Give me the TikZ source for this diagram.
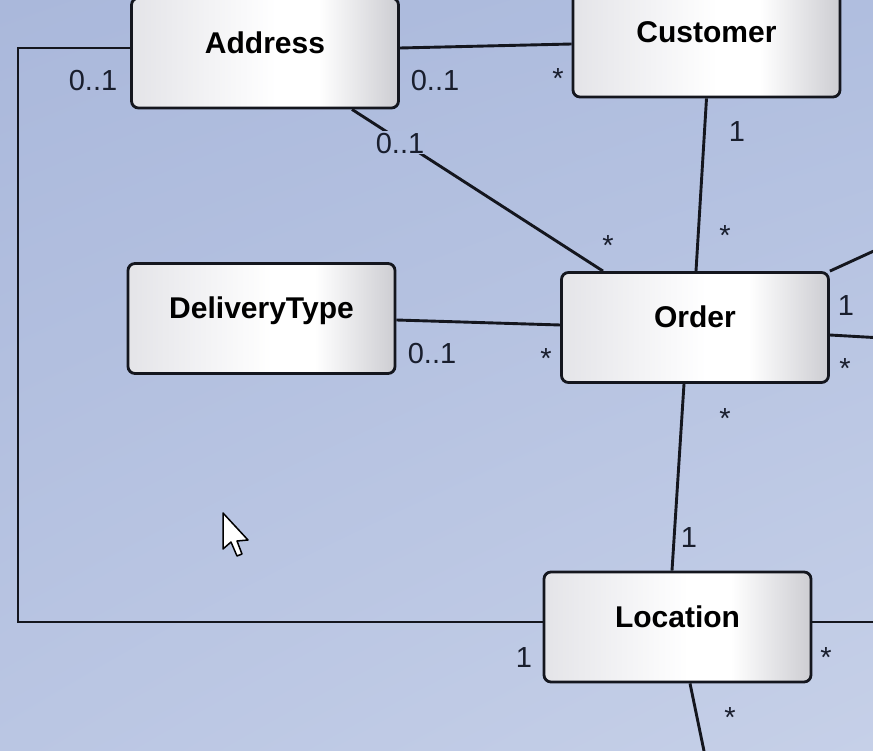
\documentclass[tikz,border=0pt]{standalone}
\usepackage{fontspec}
\setmainfont{Liberation Sans}
\usetikzlibrary{calc,shadings}
\definecolor{bgUL}{RGB}{170,184,219}
\definecolor{bgUR}{RGB}{176,190,223}
\definecolor{bgLL}{RGB}{186,198,227}
\definecolor{bgLR}{RGB}{198,208,232}
\definecolor{bgmid}{RGB}{176,190,223}
\definecolor{bxl}{RGB}{228,228,232}
\definecolor{bxm}{RGB}{243,243,245}
\definecolor{bxr}{RGB}{205,205,210}
\definecolor{lnc}{RGB}{20,22,30}
\definecolor{lblc}{RGB}{25,30,45}
\pgfdeclarehorizontalshading{clsshade}{100bp}{color(0bp)=(bxl); color(25bp)=(bxl);
  color(40bp)=(bxm); color(52bp)=(white); color(60bp)=(white);
  color(75bp)=(bxr); color(100bp)=(bxr)}
\begin{document}
\begin{tikzpicture}[x=1pt,y=-1pt,
  cls/.style={draw=lnc, line width=2.8pt, rounded corners=7pt,
    minimum width=267pt, minimum height=110pt, inner sep=0pt,
    shading=clsshade,
    font=\bfseries\fontsize{30}{32}\selectfont, text=black,
    text height=21.5pt, text depth=20.5pt},
  assoc/.style={draw=lnc, line width=2.9pt},
  mult/.style={font=\fontsize{29}{30}\selectfont, text=lblc, inner sep=1pt,
    text height=21pt, text depth=0pt},
  star/.style={mult, yshift=-5.5pt}]
\useasboundingbox (0,0) rectangle (873,751);
\clip (0,0) rectangle (873,751);
\shade[upper left=bgUL, upper right=bgUR, lower left=bgLL, lower right=bgLR]
  (0,0) rectangle (873,751);

% classes
\node[cls] (addr) at (265,53)    {Address};
\node[cls] (cust) at (706.5,42)  {Customer};
\node[cls] (dt)   at (261.5,318.5) {DeliveryType};
\node[cls] (ord)  at (695,327.5) {Order};
\node[cls] (loc)  at (677.5,627) {Location};

% free ends
\coordinate (lc)  at (18,300);
\coordinate (oe1) at (900,239);
\coordinate (oe2) at (900,339);
\coordinate (le1) at (900,622);
\coordinate (ls1) at (710,780);

% associations
\draw[assoc] ([yshift=5pt]addr.west) -| (lc) |- ([yshift=5pt]loc.west);
\draw[assoc] ([yshift=5pt]addr.east) -- ([yshift=-2pt]cust.west);
\draw[assoc] ([xshift=87pt]addr.south) -- ([xshift=-92pt]ord.north);
\draw[assoc] (cust.south) -- ([xshift=1pt]ord.north);
\draw[assoc] ([yshift=-1.5pt]dt.east) -- ([yshift=2.5pt]ord.west);
\draw[assoc] (ord.north east) -- (oe1);
\draw[assoc] ([yshift=-7.5pt]ord.east) -- (oe2);
\draw[assoc] ([xshift=-11pt]ord.south) -- ([xshift=-5.5pt]loc.north);
\draw[assoc] ([yshift=5pt]loc.east) -- (le1);
\draw[assoc] ([xshift=12.5pt]loc.south) -- (ls1);

% multiplicities
\node[mult] (m1)  at (93,80)   {0..1};
\node[mult] (m2)  at (435,80)  {0..1};
\node[star] (m3)  at (558,73)  {*};
\node[mult, fill=bgmid] (m4) at (400,143) {0..1};
\node[mult] (m5)  at (737,131) {1};
\node[star] (m6)  at (608,240) {*};
\node[star] (m7)  at (725,230) {*};
\node[mult] (m8)  at (846,305) {1};
\node[star] (m9)  at (845,362) {*};
\node[mult] (m10) at (432,353) {0..1};
\node[star] (m11) at (546,353) {*};
\node[star] (m12) at (725,412) {*};
\node[mult] (m13) at (689,537) {1};
\node[mult] (m14) at (524,657) {1};
\node[star] (m15) at (826,651) {*};
\node[star] (m16) at (730,711) {*};

% mouse pointer
\draw[fill=white, draw=black, line width=1.5pt, line join=round]
  (223,513) -- ++(0,36) -- ++(8,-7) -- ++(6,14) -- ++(5,-2) -- ++(-5,-13) -- ++(11,-1) -- cycle;
\end{tikzpicture}
\end{document}
